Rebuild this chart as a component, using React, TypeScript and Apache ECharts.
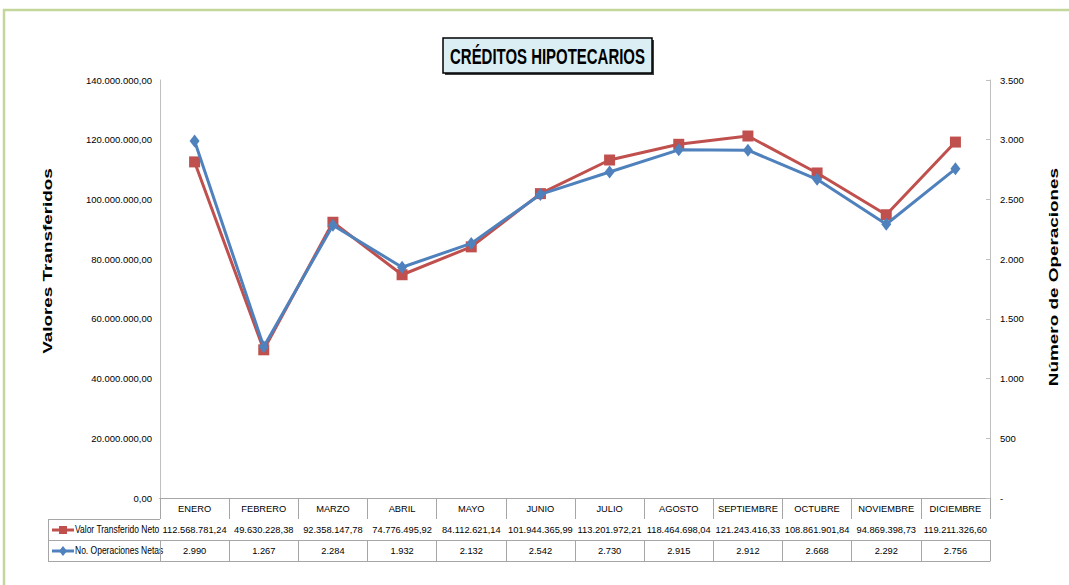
import React, { useEffect, useRef } from "react";
import * as echarts from "echarts";

const months = ["ENERO", "FEBRERO", "MARZO", "ABRIL", "MAYO", "JUNIO", "JULIO", "AGOSTO", "SEPTIEMBRE", "OCTUBRE", "NOVIEMBRE", "DICIEMBRE"];
const valorTransferido = [112568781.24, 49630228.38, 92358147.78, 74776495.92, 84112621.14, 101944365.99, 113201972.21, 118464698.04, 121243416.33, 108861901.84, 94869398.73, 119211326.6];
const operaciones = [2990, 1267, 2284, 1932, 2132, 2542, 2730, 2915, 2912, 2668, 2292, 2756];
const seriesNames = ["Valor Transferido Neto", "No. Operaciones Netas"];

const FONT = "'Liberation Sans', Arial, sans-serif";
const RED = "#c0504d";
const BLUE = "#4f81bd";
const GRID_LINE = "#a6a6a6";

function fmtNum(v: number, dec: number): string {
  const s = v.toFixed(dec);
  const [i, d] = s.split(".");
  const ii = i.replace(/\B(?=(\d{3})+(?!\d))/g, ".");
  return d ? ii + "," + d : ii;
}

export default function App() {
  const ref = useRef<HTMLDivElement>(null);
  useEffect(() => {
    if (!ref.current) return;
    const chart = echarts.init(ref.current, undefined, { renderer: "svg" });
    const tableAxis = (data: string[], offset: number, tickLen: number, showLabel: boolean) => ({
      type: "category",
      position: "bottom",
      data,
      offset,
      boundaryGap: true,
      axisLine: { show: true, lineStyle: { color: GRID_LINE, width: 1 } },
      axisTick: { show: tickLen > 0, interval: 0, length: tickLen, lineStyle: { color: GRID_LINE } },
      axisLabel: {
        show: showLabel,
        interval: 0,
        margin: 6,
        fontFamily: FONT,
        fontSize: 9.3,
        color: "#000",
      },
      splitLine: { show: false },
    });
    chart.setOption({
      animation: false,
      backgroundColor: "#fff",
      grid: { left: 160, right: 79, top: 80, bottom: 87, containLabel: false },
      xAxis: [
        tableAxis(months, 0, 21, true),
        tableAxis(valorTransferido.map((v) => fmtNum(v, 2)), 21, 21, true),
        tableAxis(operaciones.map((v) => fmtNum(v, 0)), 42, 21, true),
        tableAxis(months, 63, 0, false),
      ],
      yAxis: [
        {
          type: "value",
          min: 0,
          max: 140000000,
          interval: 20000000,
          position: "left",
          axisLine: { show: true, lineStyle: { color: "#bfbfbf" } },
          axisTick: { show: false },
          splitLine: { show: false },
          axisLabel: {
            margin: 8,
            fontFamily: FONT,
            fontSize: 9.5,
            color: "#000",
            formatter: (v: number) => fmtNum(v, 2),
          },
        },
        {
          type: "value",
          min: 0,
          max: 3500,
          interval: 500,
          position: "right",
          axisLine: { show: true, lineStyle: { color: "#bfbfbf" } },
          axisTick: { show: true, inside: true, length: 4, lineStyle: { color: "#bfbfbf" } },
          splitLine: { show: false },
          axisLabel: {
            margin: 10,
            fontFamily: FONT,
            fontSize: 9.5,
            color: "#000",
            formatter: (v: number) => (v === 0 ? "-" : fmtNum(v, 0)),
          },
        },
      ],
      series: [
        {
          name: seriesNames[0],
          type: "line",
          xAxisIndex: 0,
          yAxisIndex: 0,
          data: valorTransferido,
          symbol: "rect",
          symbolSize: 11,
          lineStyle: { color: RED, width: 3 },
          itemStyle: { color: RED },
          z: 2,
        },
        {
          name: seriesNames[1],
          type: "line",
          xAxisIndex: 0,
          yAxisIndex: 1,
          data: operaciones,
          symbol: "diamond",
          symbolSize: [10, 13],
          lineStyle: { color: BLUE, width: 3 },
          itemStyle: { color: BLUE },
          z: 3,
        },
      ],
      graphic: [
        {
          type: "rect",
          silent: true,
          z: -10,
          shape: { x: 4, y: 10, width: 1200, height: 700 },
          style: { fill: "none", stroke: "#c3d69b", lineWidth: 2.5 },
        },
        {
          type: "rect",
          shape: { x: 445, y: 40, width: 209, height: 35 },
          style: { fill: "#404040", stroke: "none" },
        },
        {
          type: "rect",
          shape: { x: 443, y: 38, width: 209, height: 35 },
          style: { fill: "#dbeef4", stroke: "#000", lineWidth: 1.5 },
        },
        {
          type: "text",
          x: 547.5,
          y: 56,
          scaleX: 0.68,
          style: {
            text: "CRÉDITOS HIPOTECARIOS",
            fontFamily: FONT,
            fontWeight: "bold",
            fontSize: 22,
            fill: "#000",
            textAlign: "center",
            textVerticalAlign: "middle",
          },
        },
        {
          type: "text",
          x: 47,
          y: 261,
          rotation: Math.PI / 2,
          scaleX: 1.4,
          style: {
            text: "Valores Transferidos",
            fontFamily: FONT,
            fontWeight: "bold",
            fontSize: 13.5,
            fill: "#000",
            textAlign: "center",
            textVerticalAlign: "middle",
          },
        },
        {
          type: "text",
          x: 1053,
          y: 277,
          rotation: Math.PI / 2,
          scaleX: 1.4,
          style: {
            text: "Número de Operaciones",
            fontFamily: FONT,
            fontWeight: "bold",
            fontSize: 13.5,
            fill: "#000",
            textAlign: "center",
            textVerticalAlign: "middle",
          },
        },
        // legend column of the data table
        { type: "line", shape: { x1: 48, y1: 519.5, x2: 160, y2: 519.5 }, style: { stroke: GRID_LINE, lineWidth: 1 } },
        { type: "line", shape: { x1: 48, y1: 540.5, x2: 160, y2: 540.5 }, style: { stroke: GRID_LINE, lineWidth: 1 } },
        { type: "line", shape: { x1: 48, y1: 561.5, x2: 160, y2: 561.5 }, style: { stroke: GRID_LINE, lineWidth: 1 } },
        { type: "line", shape: { x1: 48.5, y1: 519.5, x2: 48.5, y2: 561.5 }, style: { stroke: GRID_LINE, lineWidth: 1 } },
        { type: "line", shape: { x1: 52, y1: 530, x2: 74, y2: 530 }, style: { stroke: RED, lineWidth: 3 } },
        { type: "rect", shape: { x: 59, y: 526, width: 8, height: 8 }, style: { fill: RED } },
        {
          type: "text",
          x: 75,
          y: 530,
          scaleX: 0.85,
          style: { text: seriesNames[0], fontFamily: FONT, fontSize: 10, fill: "#000", textVerticalAlign: "middle" },
        },
        { type: "line", shape: { x1: 52, y1: 551, x2: 74, y2: 551 }, style: { stroke: BLUE, lineWidth: 3 } },
        { type: "polygon", shape: { points: [[63, 546], [67, 551], [63, 556], [59, 551]] }, style: { fill: BLUE } },
        {
          type: "text",
          x: 75,
          y: 551,
          scaleX: 0.85,
          style: { text: seriesNames[1], fontFamily: FONT, fontSize: 10, fill: "#000", textVerticalAlign: "middle" },
        },
      ],
    });
    return () => chart.dispose();
  }, []);
  return <div ref={ref} style={{ position: "fixed", left: 0, top: 0, width: 1069, height: 585 }} />;
}
